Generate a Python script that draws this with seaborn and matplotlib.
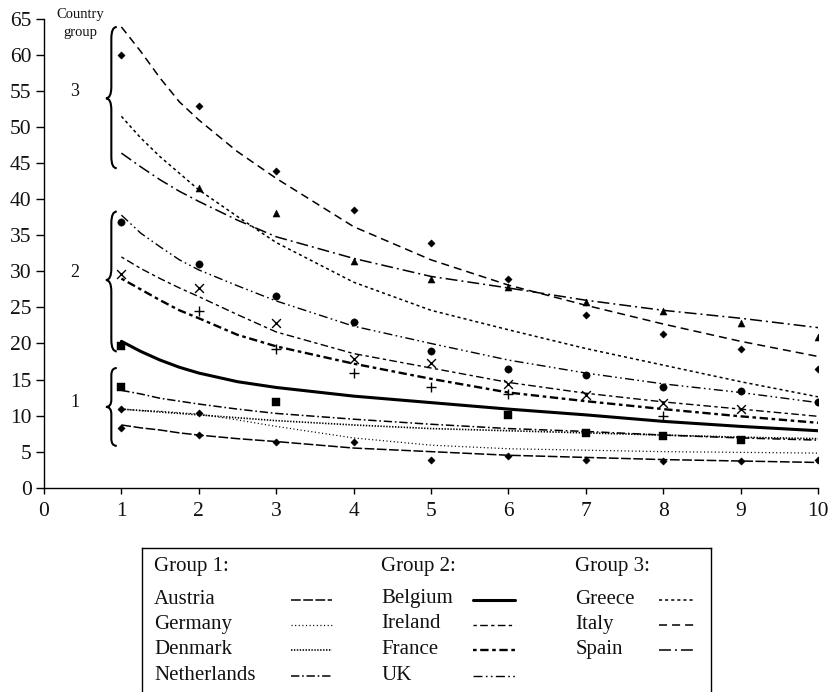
import numpy as np
import pandas as pd
import matplotlib
matplotlib.use("Agg")
import matplotlib.pyplot as plt
import seaborn as sns
from matplotlib.path import Path
from matplotlib.patches import PathPatch
from matplotlib.lines import Line2D

# ---------------- data ----------------
years = [1, 2, 3, 4, 5, 6, 7, 8, 9, 10]
curve_x = [1, 1.25, 1.5, 1.75, 2, 2.5, 3, 4, 5, 6, 7, 8, 9, 10]
nan = np.nan

# fitted curves
italy_fit   = [63.9, 60.5, 56.8, 53.5, 51.0, 46.6, 42.9, 36.2, 31.6, 28.1, 25.3, 22.7, 20.3, 18.2]
greece_fit  = [51.5, 48.5, 45.9, 43.6, 41.3, 37.6, 34.0, 28.5, 24.6, 21.9, 19.3, 17.0, 14.7, 12.6]
spain_fit   = [46.4, 44.5, 42.7, 41.1, 39.7, 37.1, 34.8, 31.8, 29.3, 27.7, 26.0, 24.6, 23.5, 22.2]
uk_fit      = [37.8, 35.3, 33.4, 31.6, 30.2, 28.0, 25.9, 22.4, 20.0, 17.7, 15.9, 14.4, 13.2, 11.8]
ireland_fit = [32.0, 30.4, 29.0, 27.7, 26.5, 24.0, 21.6, 18.6, 16.6, 14.6, 13.1, 11.9, 10.9, 9.9]
france_fit  = [29.0, 27.5, 26.0, 24.6, 23.5, 21.2, 19.6, 17.2, 15.1, 13.2, 12.0, 10.9, 9.9, 9.0]
belgium_fit = [20.3, 18.9, 17.7, 16.7, 15.9, 14.7, 13.9, 12.7, 11.8, 10.9, 10.1, 9.2, 8.5, 7.9]
nl_fit      = [13.5, 13.0, 12.4, 12.0, 11.6, 10.9, 10.3, 9.5, 8.8, 8.2, 7.8, 7.3, 6.9, 6.6]
denmark_fit = [10.9, 10.7, 10.5, 10.3, 10.1, 9.7, 9.3, 8.7, 8.2, 7.9, 7.6, 7.3, 7.0, 6.8]
germany_fit = [10.9, 10.7, 10.6, 10.4, 10.2, 9.4, 8.5, 6.9, 5.9, 5.4, 5.2, 5.0, 4.9, 4.8]
austria_fit = [8.7, 8.3, 8.0, 7.6, 7.3, 6.8, 6.4, 5.5, 5.0, 4.5, 4.2, 3.9, 3.7, 3.5]

# observed points
italy_obs   = [60.0, 52.9, 43.9, 38.5, 33.9, 28.9, 23.9, 21.3, 19.3, 16.4]
spain_obs   = [nan, 41.5, 38.1, 31.5, 28.9, 27.8, 25.8, 24.5, 22.9, 20.9]
uk_obs      = [36.9, 31.0, 26.6, 23.0, 19.0, 16.5, 15.6, 14.0, 13.4, 11.9]
ireland_obs = [29.7, 27.7, 22.9, 17.9, 17.3, 14.4, 12.9, 11.8, 10.9, nan]
france_obs  = [nan, 24.5, 19.3, 15.95, 13.9, 13.0, nan, 9.9, nan, nan]
belgium_obs = [19.7, nan, nan, nan, nan, 10.1, nan, nan, nan, nan]
nl_obs      = [13.9, nan, 11.9, nan, nan, nan, 7.6, 7.2, 6.6, nan]
germany_obs = [10.9, 10.3, nan, 6.4, nan, nan, nan, nan, nan, nan]
austria_obs = [8.3, 7.3, 6.4, nan, 3.9, 4.4, 3.9, 3.7, 3.7, 3.9]

y_ticks = list(range(0, 70, 5))
x_ticks = list(range(0, 11))

group1 = ["Austria", "Germany", "Denmark", "Netherlands"]
group2 = ["Belgium", "Ireland", "France", "UK"]
group3 = ["Greece", "Italy", "Spain"]

fits = {"Italy": italy_fit, "Greece": greece_fit, "Spain": spain_fit,
        "UK": uk_fit, "Ireland": ireland_fit, "France": france_fit,
        "Belgium": belgium_fit, "Netherlands": nl_fit, "Denmark": denmark_fit,
        "Germany": germany_fit, "Austria": austria_fit}
obs = {"Italy": italy_obs, "Spain": spain_obs, "UK": uk_obs,
       "Ireland": ireland_obs, "France": france_obs, "Belgium": belgium_obs,
       "Netherlands": nl_obs, "Germany": germany_obs, "Austria": austria_obs}

# ---------------- styles ----------------
line_style = {
    "Italy":       dict(lw=1.1, ls=(0, (5.8, 3.6))),
    "Greece":      dict(lw=1.1, ls=(0, (2.2, 2.2))),
    "Spain":       dict(lw=1.1, ls=(0, (8.6, 2.9, 1.4, 2.9))),
    "UK":          dict(lw=1.0, ls=(0, (6.5, 2.4, 1.2, 2.4, 1.2, 2.4))),
    "Ireland":     dict(lw=1.0, ls=(0, (2.4, 2.4, 5.5, 2.4))),
    "France":      dict(lw=1.7, ls=(0, (2.6, 2.6, 6.0, 2.6))),
    "Belgium":     dict(lw=2.2, ls="-"),
    "Netherlands": dict(lw=1.1, ls=(0, (6.0, 2.0, 1.2, 2.0))),
    "Denmark":     dict(lw=1.2, ls=(0, (1.0, 1.1))),
    "Germany":     dict(lw=0.9, ls=(0, (0.8, 1.8))),
    "Austria":     dict(lw=1.1, ls=(0, (7.0, 1.8))),
}
marker_style = {
    "Italy": ("D", 14), "Spain": ("^", 26), "UK": ("o", 28),
    "Ireland": ("x", 40), "France": ("+", 55), "Belgium": ("s", 30),
    "Netherlands": ("s", 30), "Germany": ("D", 14), "Austria": ("D", 14),
}

sns.set_theme(style="white")
plt.rcParams["font.family"] = ["Liberation Serif", "DejaVu Serif"]
plt.rcParams["lines.scale_dashes"] = False
plt.rcParams["axes.linewidth"] = 1.0

fig = plt.figure(figsize=(8.31, 6.92), dpi=100)
ax = fig.add_axes([44 / 831, (692 - 487.7) / 692, (818 - 44) / 831, (487.7 - 19) / 692])

for name, vals in fits.items():
    st = line_style[name]
    sns.lineplot(x=curve_x, y=vals, ax=ax, color="black", lw=st["lw"],
                 linestyle=st["ls"], estimator=None, sort=False)

for name, vals in obs.items():
    df = pd.DataFrame({"x": years, "y": vals}).dropna()
    m, s = marker_style[name]
    if m in ("x", "+"):
        sns.scatterplot(data=df, x="x", y="y", ax=ax, marker=m, s=s,
                        color="black", linewidth=1.0, zorder=5)
    else:
        sns.scatterplot(data=df, x="x", y="y", ax=ax, marker=m, s=s,
                        color="black", edgecolor="black", linewidth=0.3, zorder=5)

ax.set_xlim(0, 10)
ax.set_ylim(0, 65)
ax.set_xticks(x_ticks)
ax.set_yticks(y_ticks)
ax.set_xlabel("")
ax.set_ylabel("")
for sp in ("top", "right"):
    ax.spines[sp].set_visible(False)
for sp in ("left", "bottom"):
    ax.spines[sp].set_color("black")
ax.tick_params(axis="both", direction="out", length=5.5, width=1, color="black",
               labelsize=15.5, labelcolor="#111111", left=True, bottom=True, pad=3.5)
ax.tick_params(axis="x", length=4, pad=6)
ax.grid(False)

# braces and group labels
def brace(ax, y0, y1, ymid, xe=0.94, xb=0.87, xt=0.80, h=1.6):
    verts = [(xe, y1), (xb, y1), (xb, y1 - h), (xb, ymid + h), (xb, ymid), (xt, ymid),
             (xb, ymid), (xb, ymid - h), (xb, y0 + h), (xb, y0), (xe, y0)]
    codes = [Path.MOVETO, Path.CURVE3, Path.CURVE3, Path.LINETO, Path.CURVE3, Path.CURVE3,
             Path.CURVE3, Path.CURVE3, Path.LINETO, Path.CURVE3, Path.CURVE3]
    ax.add_patch(PathPatch(Path(verts, codes), fill=False, lw=1.5, color="black",
                           clip_on=False))

brace(ax, 44.3, 63.9, 54.0)
brace(ax, 18.9, 38.3, 28.8)
brace(ax, 5.8, 16.6, 11.2, h=1.0)
for lab, yv in (("3", 54.9), ("2", 29.9), ("1", 11.8)):
    ax.text(0.40, yv, lab, ha="center", va="center", fontsize=13, color="#111111")
ax.text(0.47, 65.6, "Country", ha="center", va="center", fontsize=10.5,
        color="#111111", clip_on=False)
ax.text(0.47, 63.1, "group", ha="center", va="center", fontsize=10.5,
        color="#111111", clip_on=False)

# ---------------- legend box ----------------
lax = fig.add_axes([142 / 831, 0, (711 - 142) / 831, (692 - 547.7) / 692])
lax.set_xlim(142, 711)
lax.set_ylim(692, 547.7)
lax.set_xticks([])
lax.set_yticks([])
lax.set_facecolor("white")
for sp in ("top", "left", "right"):
    lax.spines[sp].set_visible(True)
    lax.spines[sp].set_color("black")
    lax.spines[sp].set_linewidth(1.0)
lax.spines["bottom"].set_visible(False)

row_y = [599, 624, 649.3, 675]
cols = [(group1, "Group 1:", 154, (291, 332)),
        (group2, "Group 2:", 381.5, (473, 515)),
        (group3, "Group 3:", 575.5, (659, 695))]
for names, title, tx, (s0, s1) in cols:
    lax.text(tx, 566.7, title, ha="left", va="center", fontsize=15, color="#111111")
    for nm, ry in zip(names, row_y):
        lax.text(tx, ry, nm, ha="left", va="center", fontsize=15, color="#111111")
        st = line_style[nm]
        lax.add_line(Line2D([s0, s1], [ry + 1, ry + 1], color="black", lw=st["lw"],
                            linestyle=st["ls"]))

fig.savefig("out.png", dpi=100, facecolor="white")
